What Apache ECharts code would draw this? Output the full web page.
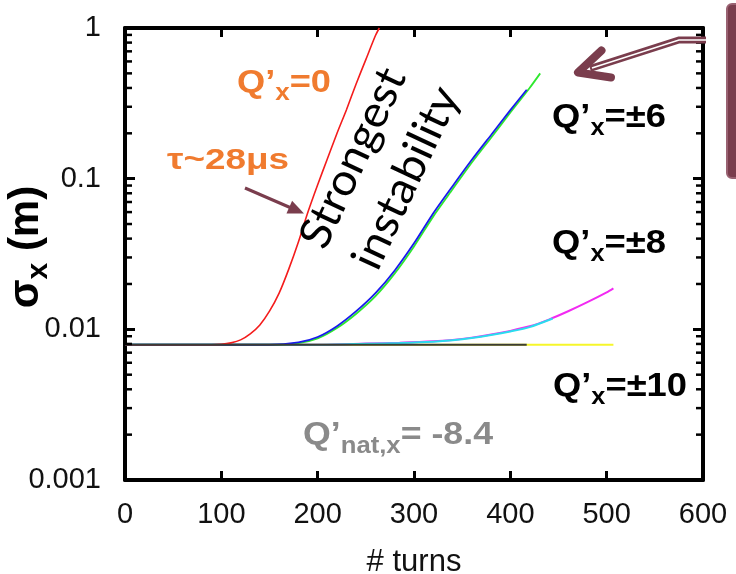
<!DOCTYPE html>
<html>
<head>
<meta charset="utf-8">
<script src="https://cdn.jsdelivr.net/npm/echarts@6/dist/echarts.min.js"></script>
<style>
  html, body { margin: 0; padding: 0; background: #fff; }
  #chart { width: 736px; height: 574px; }
</style>
</head>
<body>
<div id="chart"></div>
<script>
// Beam size growth sigma_x (m) versus number of turns for several chromaticities.
const xTickLabels = ['0', '100', '200', '300', '400', '500', '600'];
const yTickLabels = ['0.001', '0.01', '0.1', '1'];
const minorTickValues = [0.002, 0.003, 0.004, 0.005, 0.006, 0.007, 0.008, 0.009,
                         0.02, 0.03, 0.04, 0.05, 0.06, 0.07, 0.08, 0.09,
                         0.2, 0.3, 0.4, 0.5, 0.6, 0.7, 0.8, 0.9];

// Q'x = 0
const turnsRed = [0, 90, 100, 110, 120, 130, 140, 150, 160, 170, 180, 190, 200, 210, 220, 230, 240, 250, 260, 264];
const sigmaRed = [0.0079, 0.0079, 0.00795, 0.00813, 0.00851, 0.00933, 0.0107, 0.0132, 0.0174, 0.0251, 0.038, 0.0603, 0.0912, 0.135, 0.1995, 0.288, 0.427, 0.617, 0.891, 1.0];

// Q'x = +6 / -6
const turnsBlue = [0, 150, 180, 200, 220, 240, 260, 280, 300, 320, 340, 360, 380, 400, 417];
const sigmaBlue = [0.0079, 0.0079, 0.0082, 0.0089, 0.0105, 0.0132, 0.0174, 0.0246, 0.0372, 0.0589, 0.0891, 0.1334, 0.195, 0.285, 0.389];
const turnsGreen = [0, 150, 180, 200, 220, 240, 260, 280, 300, 320, 340, 360, 380, 400, 420, 431];
const sigmaGreen = [0.0079, 0.0079, 0.0081, 0.0087, 0.0102, 0.0127, 0.0166, 0.0235, 0.0355, 0.0562, 0.085, 0.128, 0.187, 0.275, 0.40, 0.50];

// Q'x = +8 / -8
const turnsMagenta = [0, 200, 250, 285, 320, 340, 360, 380, 400, 420, 440, 460, 480, 500, 507];
const sigmaMagenta = [0.0079, 0.0079, 0.00804, 0.00815, 0.00832, 0.00851, 0.00881, 0.00923, 0.00977, 0.01047, 0.01161, 0.01318, 0.01514, 0.01758, 0.0187];
const turnsCyan = [0, 200, 250, 285, 320, 340, 360, 380, 400, 420, 444];
const sigmaCyan = [0.0079, 0.0079, 0.00802, 0.00812, 0.00828, 0.00846, 0.00875, 0.00916, 0.00968, 0.01035, 0.0118];

// Q'x = +10 / -10
const turnsYellow = [0, 507];
const sigmaYellow = [0.0079, 0.0079];
const turnsDark = [0, 417];
const sigmaDark = [0.0079, 0.0079];

const FONT = '"Liberation Sans", Arial, sans-serif';
const ORANGE = '#F07B2F';
const MAROON = '#7A3D4D';
const GREY = '#8A8A8A';

const zip = (xs, ys) => xs.map((x, i) => [x, ys[i]]);

const measureCtx = document.createElement('canvas').getContext('2d');
function textWidth(str, size, family) {
  measureCtx.font = 'bold ' + size + 'px ' + family;
  return measureCtx.measureText(str).width;
}

// Bold label with an optional subscript part, stretched to a given width.
function subLabel(o) {
  const F = o.F, S = o.S || Math.round(o.F * 0.7);
  const drop = o.drop == null ? 7 : o.drop;
  const sub = o.sub || '';
  const tail = o.tail || '';
  const w = textWidth(o.main, F, FONT) + (sub ? textWidth(sub, S, FONT) : 0) + (tail ? textWidth(tail, F, FONT) : 0);
  const d = drop + 0.3465 * (F - S);
  const base = { fontSize: F, fontWeight: 'bold', fontFamily: FONT, fill: o.color, lineHeight: F, verticalAlign: 'top' };
  let text = '{a|' + o.main + '}';
  if (sub) text += '{s|' + sub + '}';
  if (tail) text += '{a|' + tail + '}';
  return {
    type: 'text',
    x: o.left,
    y: o.capTop - 0.13 * F,
    scaleX: o.width / w,
    z: 20,
    style: {
      text: text,
      align: 'left',
      verticalAlign: 'top',
      rich: {
        a: base,
        s: { fontSize: S, fontWeight: 'bold', fontFamily: FONT, fill: o.color, lineHeight: F + 2 * d, verticalAlign: 'middle' }
      }
    }
  };
}

function rotatedLine(str, cx, cy, deg, size, stretch) {
  return {
    type: 'text',
    x: cx, y: cy,
    rotation: deg * Math.PI / 180,
    scaleX: stretch,
    z: 20,
    style: {
      text: str,
      fontFamily: 'Lato, "Noto Sans", sans-serif',
      fontSize: size,
      fill: '#000',
      align: 'center',
      verticalAlign: 'middle'
    }
  };
}

// y-axis title: sigma_x (m), rotated
const yTitleF = 42, yTitleS = 30, yTitleDrop = 8;
const yTitleD = yTitleDrop + 0.3465 * (yTitleF - yTitleS);
const yTitle = {
  type: 'text',
  x: 41 + yTitleD - 0.3465 * yTitleF,
  y: 247,
  rotation: Math.PI / 2,
  z: 20,
  style: {
    text: '{a|σ}{s|x}{a| (m)}',
    align: 'center',
    verticalAlign: 'middle',
    rich: {
      a: { fontSize: yTitleF, fontWeight: 'bold', fontFamily: FONT, fill: '#000', lineHeight: yTitleF, verticalAlign: 'top' },
      s: { fontSize: yTitleS, fontWeight: 'bold', fontFamily: FONT, fill: '#000', lineHeight: yTitleF + 2 * yTitleD, verticalAlign: 'middle' }
    }
  }
};

const graphics = [
  yTitle,
  subLabel({ main: 'Q’', sub: 'x', tail: '=0', color: ORANGE, left: 237, capTop: 71, width: 94, F: 32, S: 23, drop: 8 }),
  subLabel({ main: 'τ~28μs', color: ORANGE, left: 167, capTop: 150, width: 122, F: 30 }),
  subLabel({ main: 'Q’', sub: 'x', tail: '=±6', color: '#000', left: 552, capTop: 106, width: 114, F: 33, S: 23, drop: 7 }),
  subLabel({ main: 'Q’', sub: 'x', tail: '=±8', color: '#000', left: 552, capTop: 232, width: 114, F: 33, S: 23, drop: 7 }),
  subLabel({ main: 'Q’', sub: 'x', tail: '=±10', color: '#000', left: 553, capTop: 375, width: 134, F: 33, S: 23, drop: 7 }),
  subLabel({ main: 'Q’', sub: 'nat,x', tail: '= -8.4', color: GREY, left: 303, capTop: 423, width: 190, F: 32, S: 23, drop: 9 }),
  rotatedLine('Strongest', 353, 158, 65, 44, 1.05),
  rotatedLine('instability', 406, 178, 65, 44, 1.05),
  // pointer to the Q'x=0 curve
  { type: 'line', z: 20, shape: { x1: 245, y1: 188, x2: 290, y2: 207.5 }, style: { stroke: MAROON, lineWidth: 3 } },
  { type: 'polygon', z: 20, shape: { points: [[304, 213.5], [286.5, 213.6], [292.1, 200.8]] }, style: { fill: MAROON } },
  // callout box on the right edge and its arrow
  { type: 'rect', z: 20, shape: { x: 727, y: 4, width: 30, height: 174, r: 5 }, style: { fill: MAROON, stroke: '#9A6272', lineWidth: 2 } },
  { type: 'polyline', z: 20, shape: { points: [[706, 40], [679, 40], [590, 68.5]] }, style: { stroke: MAROON, lineWidth: 7, fill: null, lineJoin: 'miter' } },
  { type: 'polyline', z: 21, shape: { points: [[706, 40], [679, 40], [592, 68]] }, style: { stroke: '#fff', lineWidth: 1.6, fill: null, lineJoin: 'miter' } },
  { type: 'polyline', z: 21, shape: { points: [[601.5, 50.5], [578, 72.5], [611, 77.5]] }, style: { stroke: MAROON, lineWidth: 8, fill: null, lineJoin: 'round', lineCap: 'round' } }
];

const lineSeries = (name, xs, ys, color, width) => ({
  name: name,
  type: 'line',
  data: zip(xs, ys),
  showSymbol: false,
  smooth: 0.25,
  lineStyle: { color: color, width: width },
  itemStyle: { color: color },
  silent: true,
  z: 3
});

const chart = echarts.init(document.getElementById('chart'), null, { renderer: 'canvas' });
chart.setOption({
  animation: false,
  backgroundColor: '#fff',
  grid: { left: 125, right: 33, top: 28, bottom: 94, containLabel: false, outerBoundsMode: 'none' },
  xAxis: [
    {
      type: 'value', min: 0, max: 600, interval: 100, position: 'bottom',
      axisLine: { onZero: false, lineStyle: { color: '#000', width: 4 } },
      axisTick: { inside: true, length: 9, lineStyle: { color: '#000', width: 3 } },
      axisLabel: { margin: 20, fontSize: 29, fontFamily: FONT, color: '#111', formatter: (v, i) => xTickLabels[i] },
      splitLine: { show: false },
      name: '# turns', nameLocation: 'middle', nameGap: 67,
      nameTextStyle: { fontSize: 31, fontFamily: FONT, color: '#111' }
    },
    {
      type: 'value', min: 0, max: 600, interval: 100, position: 'top',
      axisLine: { onZero: false, lineStyle: { color: '#000', width: 4 } },
      axisTick: { inside: true, length: 9, lineStyle: { color: '#000', width: 3 } },
      axisLabel: { show: false }, splitLine: { show: false }
    }
  ],
  yAxis: [
    {
      type: 'log', logBase: 10, min: 0.001, max: 1, position: 'left',
      axisLine: { onZero: false, lineStyle: { color: '#000', width: 4 } },
      axisTick: { inside: true, length: 10, lineStyle: { color: '#000', width: 3 } },
      axisLabel: { margin: 24, fontSize: 29, fontFamily: FONT, color: '#111', formatter: (v, i) => yTickLabels[i] },
      splitLine: { show: false }
    },
    {
      type: 'log', logBase: 10, min: 0.001, max: 1, position: 'right',
      axisLine: { onZero: false, lineStyle: { color: '#000', width: 4 } },
      axisTick: { inside: true, length: 10, lineStyle: { color: '#000', width: 3 } },
      axisLabel: { show: false }, splitLine: { show: false }
    }
  ],
  series: [
    lineSeries('Q\'x=±10 (a)', turnsYellow, sigmaYellow, '#F6F62A', 2),
    lineSeries('Q\'x=±8 (a)', turnsMagenta, sigmaMagenta, '#F22AF2', 2),
    lineSeries('Q\'x=±8 (b)', turnsCyan, sigmaCyan, '#2ADCEE', 2),
    lineSeries('Q\'x=±6 (a)', turnsGreen, sigmaGreen, '#2EE82E', 1.8),
    lineSeries('Q\'x=±6 (b)', turnsBlue, sigmaBlue, '#1A1AEE', 1.8),
    lineSeries('Q\'x=0', turnsRed, sigmaRed, '#F41C1C', 1.6),
    lineSeries('Q\'x=±10 (b)', turnsDark, sigmaDark, '#3C3C34', 2),
    {
      name: 'minor ticks',
      type: 'custom',
      silent: true,
      clip: false,
      z: 10,
      data: minorTickValues.map(v => [0, v]),
      renderItem: function (params, api) {
        const v = api.value(1);
        const p = api.coord([0, v]);
        const q = api.coord([600, v]);
        return {
          type: 'group',
          children: [
            { type: 'line', shape: { x1: p[0], y1: p[1], x2: p[0] + 7, y2: p[1] }, style: { stroke: '#000', lineWidth: 2.5 } },
            { type: 'line', shape: { x1: q[0] - 7, y1: q[1], x2: q[0], y2: q[1] }, style: { stroke: '#000', lineWidth: 2.5 } }
          ]
        };
      }
    }
  ],
  graphic: graphics
});
</script>
</body>
</html>
